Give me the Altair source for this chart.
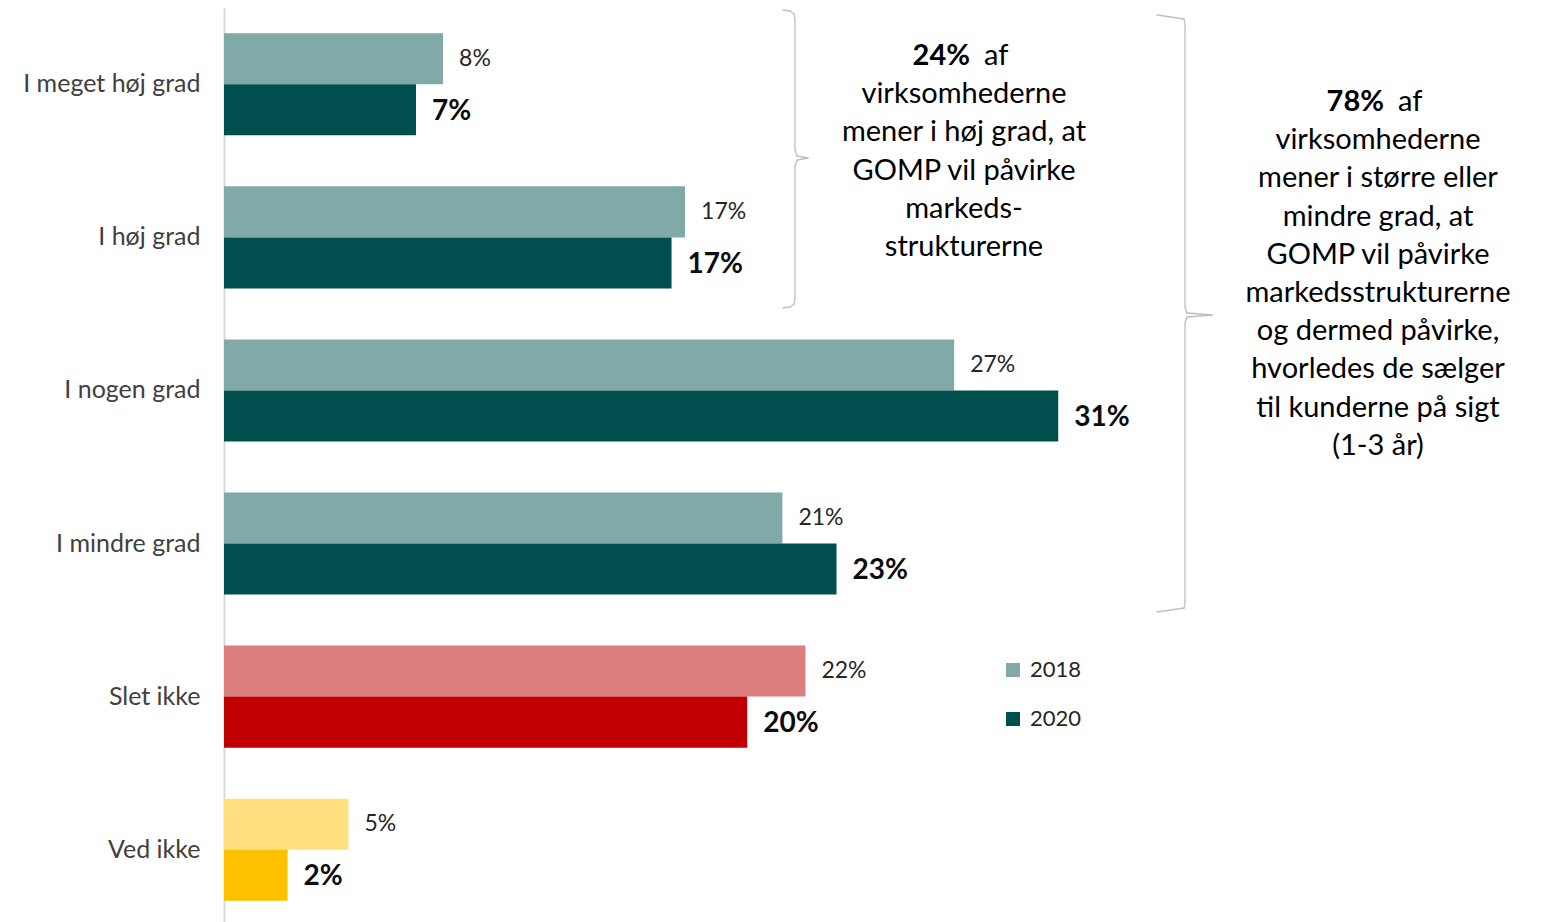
import altair as alt
import pandas as pd

# ---- data ----
categories = ["I meget høj grad", "I høj grad", "I nogen grad", "I mindre grad", "Slet ikke", "Ved ikke"]
groups = ["teal", "teal", "teal", "teal", "red", "yellow"]
values_2018 = [8.1, 17.05, 27.0, 20.65, 21.5, 4.6]
values_2020 = [7.1, 16.55, 30.85, 22.65, 19.35, 2.35]
labels_2018 = ["8%", "17%", "27%", "21%", "22%", "5%"]
labels_2020 = ["7%", "17%", "31%", "23%", "20%", "2%"]
years = ["2018", "2020"]

ann1_head_bold = "24%"
ann1_head_rest = "af"
ann1_lines = ["virksomhederne", "mener i høj grad, at", "GOMP vil påvirke", "markeds-", "strukturerne"]
ann2_head_bold = "78%"
ann2_head_rest = "af"
ann2_lines = ["virksomhederne", "mener i større eller", "mindre grad, at", "GOMP vil påvirke",
              "markedsstrukturerne", "og dermed påvirke,", "hvorledes de sælger",
              "til kunderne på sigt", "(1-3 år)"]

rows = []
for c, g, v18, v20, l18, l20 in zip(categories, groups, values_2018, values_2020, labels_2018, labels_2020):
    for yr, v, l in (("2018", v18, l18), ("2020", v20, l20)):
        key = yr if g == "teal" else g + yr
        rows.append({"cat": c, "year": yr, "value": v, "label": l, "key": key})
df = pd.DataFrame(rows)

color_domain = ["2018", "2020", "red2018", "red2020", "yellow2018", "yellow2020"]
color_range = ["#80A9A8", "#004F4F", "#DD7E7E", "#C00000", "#FFDF80", "#FFC000"]

FONT = "Lato"
W, H = 1298, 918

x_enc = alt.X("value:Q", scale=alt.Scale(domain=[0, 48], nice=False), axis=None, stack=None)
y_scale = alt.Scale(paddingInner=0.333, paddingOuter=0.165)
y_enc = alt.Y("cat:N", sort=categories, scale=y_scale,
              axis=alt.Axis(title=None, ticks=False, domain=True, domainColor="#D9D9D9", domainWidth=2,
                            labelFontSize=25, labelColor="#404040", labelFont=FONT,
                            labelPadding=24, grid=False))
yoff = alt.YOffset("year:N", sort=years, scale=alt.Scale(paddingInner=0, paddingOuter=0))

bars = alt.Chart(df).mark_bar().encode(
    x=x_enc, y=y_enc, yOffset=yoff,
    color=alt.Color("key:N", scale=alt.Scale(domain=color_domain, range=color_range),
                    legend=alt.Legend(values=["2018", "2020"], title=None, orient="none",
                                      legendX=778, legendY=651, symbolType="square",
                                      symbolSize=196, symbolStrokeWidth=0, labelFontSize=22,
                                      labelFont=FONT, labelColor="#262626", rowPadding=27,
                                      labelOffset=6)),
)

lab18 = alt.Chart(df).transform_filter(alt.datum.year == "2018").mark_text(
    align="left", baseline="middle", dx=16, fontSize=23, font=FONT, color="#262626"
).encode(x=x_enc, y=y_enc, yOffset=yoff, text="label:N")

lab20 = alt.Chart(df).transform_filter(alt.datum.year == "2020").mark_text(
    align="left", baseline="middle", dx=16, dy=2, fontSize=28, fontWeight="bold", font=FONT, color="#0D0D0D"
).encode(x=x_enc, y=y_enc, yOffset=yoff, text="label:N")

one = pd.DataFrame({"a": [0]})
AFS = 29
LH = 38.2

def head(bold, rest, cx, cy):
    b = alt.Chart(one).mark_text(align="right", baseline="middle", fontSize=AFS, fontWeight="bold",
                                 font=FONT, color="#000000", text=bold).encode(
        x=alt.value(cx - 4), y=alt.value(cy))
    r = alt.Chart(one).mark_text(align="left", baseline="middle", fontSize=AFS,
                                 font=FONT, color="#000000", text=rest).encode(
        x=alt.value(cx + 10), y=alt.value(cy))
    return b + r

def body(lines, cx, cy):
    return alt.Chart(one).mark_text(align="center", baseline="middle", fontSize=AFS, font=FONT,
                                    color="#000000", lineHeight=LH, text=lines).encode(
        x=alt.value(cx), y=alt.value(cy))

# white mask over the top edge of the plot frame
mask = alt.Chart(one).mark_rule(color="white", strokeWidth=3).encode(
    x=alt.value(2), x2=alt.value(W + 4), y=alt.value(0))

# brace geometry (plot-pixel coordinates), drawn as rule segments
def brace(x0, xv, xt, y0, ym, y1):
    pts = [(x0, y0), (x0 + 7, y0 + 1), (xv - 1, y0 + 4), (xv, y0 + 10),
           (xv, ym - 8), (xv + 2, ym - 2), (xt, ym), (xv + 2, ym + 2), (xv, ym + 8),
           (xv, y1 - 10), (xv - 1, y1 - 4), (x0 + 7, y1 - 1), (x0, y1)]
    segs = []
    for (ax, ay), (bx, by) in zip(pts[:-1], pts[1:]):
        segs.append(alt.Chart(one).mark_rule(color="#BFBFBF", strokeWidth=1.3, strokeCap="round").encode(
            x=alt.value(ax), y=alt.value(ay), x2=alt.value(bx), y2=alt.value(by)))
    return alt.layer(*segs)

b1 = brace(559, 571, 584, 2, 150, 300)
b2 = brace(933, 961, 988, 7, 307, 604)

ann1 = head(ann1_head_bold, ann1_head_rest, 750, 48) + body(ann1_lines, 740, 48 + LH)
ann2 = head(ann2_head_bold, ann2_head_rest, 1164, 94) + body(ann2_lines, 1154, 94 + LH)

chart = alt.layer(bars, lab18, lab20, mask, b1, b2, ann1, ann2).properties(
    width=W, height=H,
    autosize=alt.AutoSizeParams(type="none"),
    padding={"left": 216, "top": 0, "right": 0, "bottom": 0},
).configure_view(strokeWidth=0, stroke="transparent").configure_axis(
    grid=False, ticks=False
).configure(background="white")

chart.save("out.html", embed_options={"renderer": "svg", "actions": False})
